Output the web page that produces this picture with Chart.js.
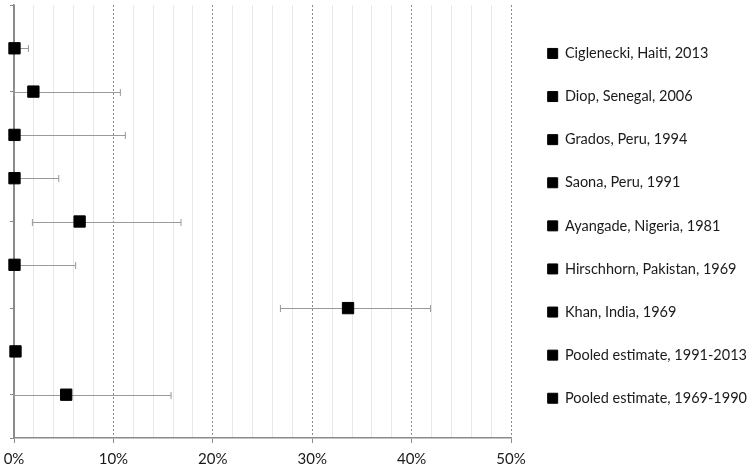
<!DOCTYPE html>
<html>
<head>
<meta charset="utf-8">
<script src="https://cdn.jsdelivr.net/npm/chart.js@4.4.1/dist/chart.umd.min.js"></script>
<style>
  html, body { margin: 0; padding: 0; background: #fff; }
  #wrap { width: 750px; height: 469px; position: relative; }
</style>
</head>
<body>
<div id="wrap"><canvas id="forestChart"></canvas></div>
<script>
// --- Data ---
const studies = [
    'Ciglenecki, Haiti, 2013',
    'Diop, Senegal, 2006',
    'Grados, Peru, 1994',
    'Saona, Peru, 1991',
    'Ayangade, Nigeria, 1981',
    'Hirschhorn, Pakistan, 1969',
    'Khan, India, 1969',
    'Pooled estimate, 1991-2013',
    'Pooled estimate, 1969-1990'
];
const estimates = [0.05, 1.95, 0.05, 0.05, 6.6, 0.05, 33.6, 0.15, 5.25];
const lowerCI   = [0, 0, 0, 0, 1.85, 0, 26.8, 0, 0];
const upperCI   = [1.45, 10.7, 11.2, 4.5, 16.8, 6.2, 41.9, 0.3, 15.8];
const rowPos    = [9, 8, 7, 6, 5, 4, 3, 2, 1];

const FONT = 'Lato, "Open Sans", sans-serif';

// --- Error bars drawn under the markers ---
const errorBars = {
    id: 'errorBars',
    beforeDatasetsDraw(chart) {
        const ctx = chart.ctx;
        const xs = chart.scales.x, ys = chart.scales.y;
        ctx.save();
        ctx.strokeStyle = '#999999';
        ctx.lineWidth = 1;
        for (let i = 0; i < studies.length; i++) {
            const y = Math.round(ys.getPixelForValue(rowPos[i])) + 0.5;
            const x1 = xs.getPixelForValue(lowerCI[i]);
            const x2 = xs.getPixelForValue(upperCI[i]);
            ctx.beginPath();
            ctx.moveTo(x1, y); ctx.lineTo(x2, y);
            ctx.moveTo(x1, y - 3.5); ctx.lineTo(x1, y + 3.5);
            ctx.moveTo(x2, y - 3.5); ctx.lineTo(x2, y + 3.5);
            ctx.stroke();
        }
        ctx.restore();
    }
};

const datasets = studies.map((name, i) => ({
    label: name,
    data: [{x: estimates[i], y: rowPos[i]}],
    backgroundColor: '#000',
    borderColor: '#000',
    borderWidth: 1,
    pointStyle: 'rect',
    pointRadius: 8,
    pointHoverRadius: 8,
    clip: false
}));

new Chart(document.getElementById('forestChart'), {
    type: 'scatter',
    data: { datasets },
    plugins: [errorBars],
    options: {
        responsive: true,
        maintainAspectRatio: false,
        animation: false,
        layout: { autoPadding: false, padding: { left: 0, top: 5, right: -7, bottom: 0 } },
        scales: {
            x: {
                type: 'linear', min: 0, max: 50,
                afterFit: s => { s.height = 31; s.paddingLeft = 0; s.paddingRight = 0; },
                ticks: {
                    stepSize: 2,
                    autoSkip: false,
                    maxRotation: 0,
                    padding: 7,
                    color: '#1a1a1a',
                    font: { family: FONT, size: 15 },
                    callback: v => (v % 10 === 0 ? v + '%' : '')
                },
                grid: {
                    color: ctx => (ctx.tick && ctx.tick.value % 10 === 0 ? '#8a8a8a' : '#e8e8e8'),
                    lineWidth: 1,
                    drawTicks: true,
                    tickLength: 5,
                    tickColor: ctx => (ctx.tick && ctx.tick.value % 10 === 0 ? '#8a8a8a' : 'rgba(0,0,0,0)')
                },
                border: {
                    color: '#8a8a8a', width: 1.5,
                    dash: ctx => (ctx.tick && ctx.tick.value % 10 === 0 && ctx.tick.value !== 0 ? [2, 2] : [])
                }
            },
            y: {
                type: 'linear', min: 0, max: 10,
                afterFit: s => { s.width = 14; },
                ticks: { stepSize: 1, display: false },
                grid: { drawOnChartArea: false, drawTicks: true, tickLength: 4, tickColor: '#8a8a8a' },
                border: { color: '#8a8a8a', width: 1.5 }
            },
            // spacer between plot area and legend
            ySpacer: {
                type: 'linear', position: 'right', min: 0, max: 10,
                afterFit: s => { s.width = 8; },
                ticks: { display: false },
                grid: { display: false },
                border: { display: false }
            }
        },
        plugins: {
            tooltip: { enabled: false },
            legend: {
                position: 'right',
                align: 'start',
                maxWidth: 300,
                title: { display: true, text: ' ', padding: 1.5, font: { size: 8 } },
                labels: {
                    boxWidth: 10,
                    boxHeight: 10,
                    padding: 28.6,
                    color: '#1a1a1a',
                    font: { family: FONT, size: 14.5 }
                }
            }
        }
    }
});
</script>
</body>
</html>
